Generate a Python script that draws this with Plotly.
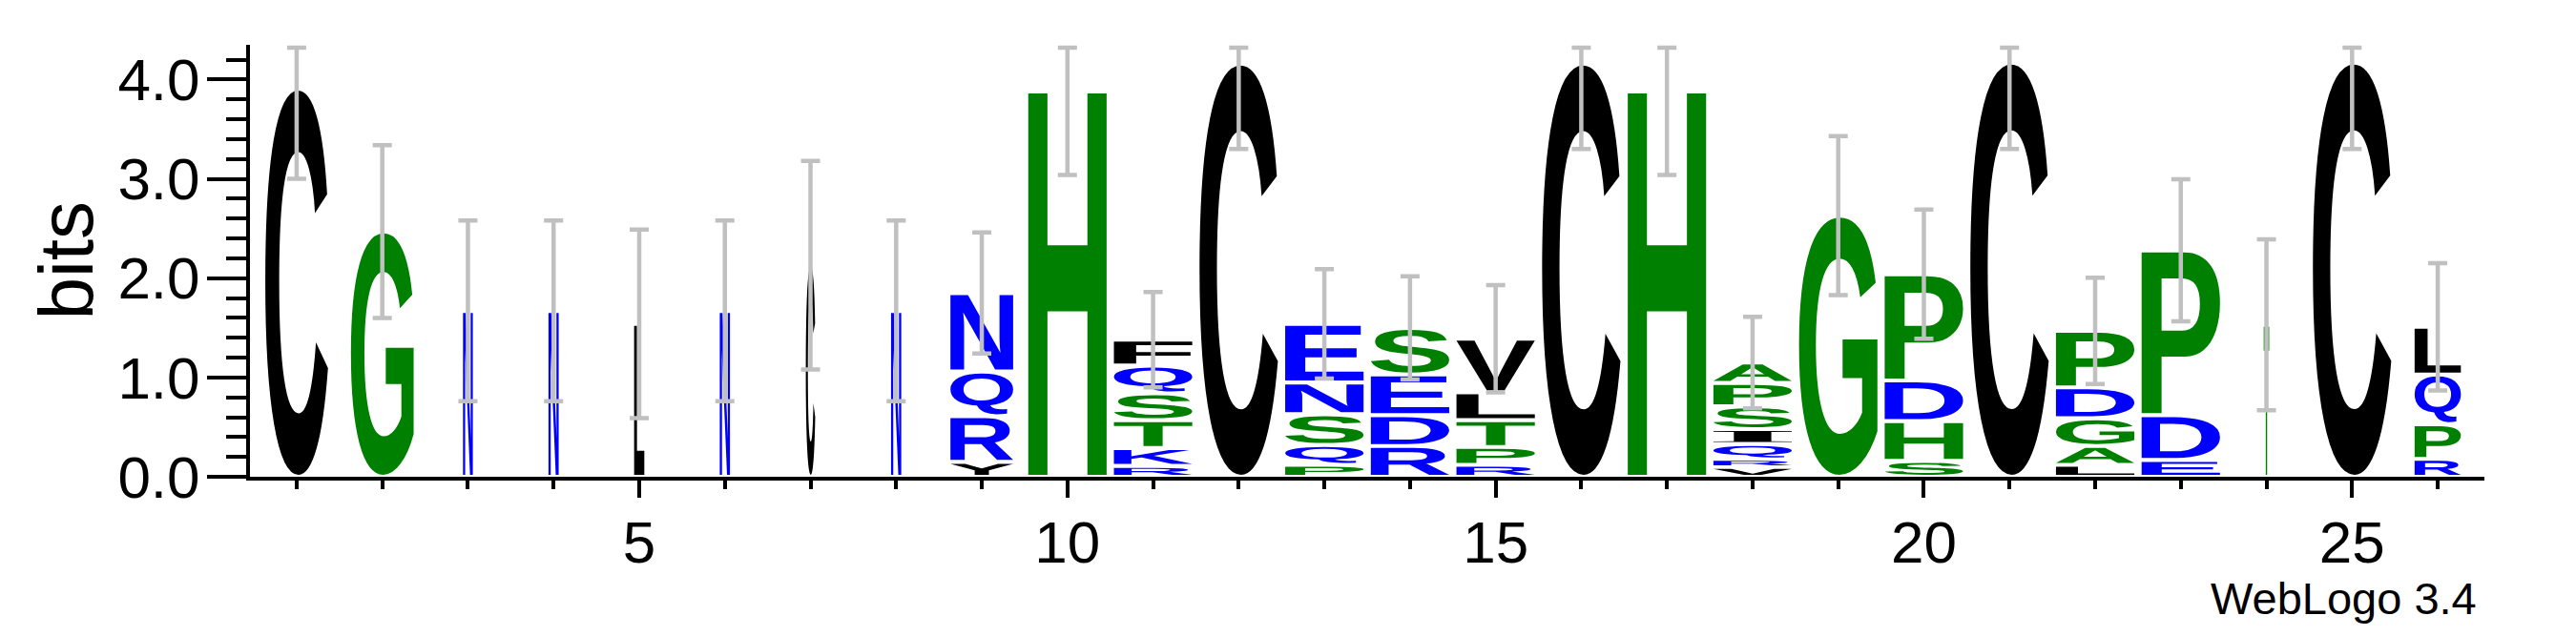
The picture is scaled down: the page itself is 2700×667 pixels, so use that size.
import glob
import math
import os
import struct
import subprocess

import plotly.graph_objects as go

positions = list(range(1, 27))
# letters of each stack, bottom -> top
stack_letters = [
    "C", "G", "N", "N", "L", "N", "C", "N", "YRQN", "H",
    "RKTSQF", "C", "PQSNE", "RDES", "RPTLV", "C", "H", "VRQISPA",
    "G", "SHDP", "C", "LAGDP", "EDP", "T", "C", "RPQL",
]
# information (bits) of each letter, bottom -> top
stack_bits = [
    [3.91], [2.47], [1.67], [1.67], [1.54], [1.67], [2.13], [1.67],
    [0.15, 0.46, 0.45, 0.79], [3.88],
    [0.11, 0.18, 0.28, 0.27, 0.28, 0.26], [4.16],
    [0.12, 0.20, 0.31, 0.32, 0.59], [0.31, 0.31, 0.41, 0.47],
    [0.12, 0.18, 0.27, 0.28, 0.54], [4.16], [3.88],
    [0.10, 0.075, 0.155, 0.15, 0.23, 0.235, 0.205], [2.63],
    [0.16, 0.40, 0.41, 1.07], [4.17], [0.12, 0.19, 0.28, 0.31, 0.57],
    [0.17, 0.45, 1.66], [1.53], [4.17], [0.18, 0.35, 0.50, 0.48],
]
# fraction of non-gap symbols (relative stack width)
stack_width = [
    0.80, 0.80, 0.125, 0.13, 0.13, 0.13, 0.12, 0.13, 0.80, 1.0,
    1.0, 1.0, 1.0, 1.0, 1.0, 1.0, 1.0, 1.0, 1.0, 1.0,
    1.0, 1.0, 1.0, 0.07, 1.0, 0.59,
]
# small-sample error (bits)
error_bits = [
    0.91, 0.87, 0.91, 0.91, 0.95, 0.91, 1.05, 0.91, 0.61, 0.84,
    0.48, 0.86, 0.55, 0.52, 0.54, 0.86, 0.84, 0.46, 0.80, 0.65,
    0.87, 0.535, 0.715, 0.86, 0.87, 0.64,
]
x_tick_labels = ["5", "10", "15", "20", "25"]
y_tick_labels = ["0.0", "1.0", "2.0", "3.0", "4.0"]

# hydrophobicity colour scheme (WebLogo)
scheme = {}
for aa in "RKDENQ":
    scheme[aa] = "#0000ff"
for aa in "SGHTAP":
    scheme[aa] = "#008000"
for aa in "YVMCLFIW":
    scheme[aa] = "#000000"

max_bits = math.log2(20)
letter_fill = 0.915   # fraction of a column covered by a full-width stack
pad_bits = 0.02       # white gap between stacked glyphs


# ---------------- minimal TrueType outline reader ----------------
def find_font(names, fc_query):
    for n in names:
        hits = glob.glob("/usr/share/fonts/**/" + n, recursive=True)
        if hits:
            return hits[0]
    try:
        out = subprocess.run(["fc-match", "-f", "%{file}", fc_query],
                             capture_output=True, text=True, timeout=10).stdout.strip()
        if out and os.path.exists(out):
            return out
    except Exception:
        pass
    return None


class TTFont:
    def __init__(self, path):
        d = open(path, "rb").read()
        self.d = d
        n = struct.unpack(">H", d[4:6])[0]
        t = {}
        for i in range(n):
            tag, _, off, ln = struct.unpack(">4sIII", d[12 + 16 * i:28 + 16 * i])
            t[tag.decode("latin1")] = off
        head = t["head"]
        fmt = struct.unpack(">h", d[head + 50:head + 52])[0]
        ng = struct.unpack(">H", d[t["maxp"] + 4:t["maxp"] + 6])[0]
        lo = t["loca"]
        if fmt == 0:
            self.loca = [struct.unpack(">H", d[lo + 2 * i:lo + 2 * i + 2])[0] * 2 for i in range(ng + 1)]
        else:
            self.loca = [struct.unpack(">I", d[lo + 4 * i:lo + 4 * i + 4])[0] for i in range(ng + 1)]
        self.glyf = t["glyf"]
        cm = t["cmap"]
        ns = struct.unpack(">H", d[cm + 2:cm + 4])[0]
        self.sub = None
        for i in range(ns):
            pid, eid, so = struct.unpack(">HHI", d[cm + 4 + 8 * i:cm + 12 + 8 * i])
            f = struct.unpack(">H", d[cm + so:cm + so + 2])[0]
            if f == 4 and (pid == 0 or (pid == 3 and eid == 1)):
                self.sub = cm + so
                break

    def gid(self, ch):
        d, s, c = self.d, self.sub, ord(ch)
        segx2 = struct.unpack(">H", d[s + 6:s + 8])[0]
        ends = s + 14
        starts = ends + segx2 + 2
        deltas = starts + segx2
        ranges = deltas + segx2
        for i in range(segx2 // 2):
            end = struct.unpack(">H", d[ends + 2 * i:ends + 2 * i + 2])[0]
            if c <= end:
                start = struct.unpack(">H", d[starts + 2 * i:starts + 2 * i + 2])[0]
                if c < start:
                    return 0
                delta = struct.unpack(">h", d[deltas + 2 * i:deltas + 2 * i + 2])[0]
                ro = struct.unpack(">H", d[ranges + 2 * i:ranges + 2 * i + 2])[0]
                if ro == 0:
                    return (c + delta) & 0xFFFF
                addr = ranges + 2 * i + ro + 2 * (c - start)
                g = struct.unpack(">H", d[addr:addr + 2])[0]
                return (g + delta) & 0xFFFF if g else 0
        return 0

    def outline(self, ch):
        d = self.d
        off = self.glyf + self.loca[self.gid(ch)]
        nc, x0, y0, x1, y1 = struct.unpack(">hhhhh", d[off:off + 10])
        if nc <= 0:
            return None
        p = off + 10
        endpts = struct.unpack(">%dH" % nc, d[p:p + 2 * nc])
        p += 2 * nc
        il = struct.unpack(">H", d[p:p + 2])[0]
        p += 2 + il
        npts = endpts[-1] + 1
        flags = []
        while len(flags) < npts:
            f = d[p]
            p += 1
            flags.append(f)
            if f & 8:
                r = d[p]
                p += 1
                flags.extend([f] * r)
        flags = flags[:npts]
        xs, v = [], 0
        for f in flags:
            if f & 2:
                dv = d[p]
                p += 1
                v += dv if f & 16 else -dv
            elif not f & 16:
                v += struct.unpack(">h", d[p:p + 2])[0]
                p += 2
            xs.append(v)
        ys, v = [], 0
        for f in flags:
            if f & 4:
                dv = d[p]
                p += 1
                v += dv if f & 32 else -dv
            elif not f & 32:
                v += struct.unpack(">h", d[p:p + 2])[0]
                p += 2
            ys.append(v)
        contours, s = [], 0
        for e in endpts:
            contours.append([(xs[i], ys[i], flags[i] & 1) for i in range(s, e + 1)])
            s = e + 1
        return (x0, y0, x1, y1), contours


sans_path = find_font(["LiberationSans-Bold.ttf", "Arial_Bold.ttf", "DejaVuSans-Bold.ttf"],
                      "Liberation Sans:bold")
serif_path = find_font(["LiberationSerif-Bold.ttf", "DejaVuSerif-Bold.ttf"], "Liberation Serif:bold")
sans = TTFont(sans_path) if sans_path else None
serif = TTFont(serif_path) if serif_path else sans


def glyph_path(ch, cx, w, yb, h):
    """SVG path (data coordinates) of glyph ch stretched into the box."""
    font = serif if (ch == "I" and serif is not None) else sans
    res = font.outline(ch) if font is not None else None
    if res is None:
        return "M{0},{1}L{2},{1}L{2},{3}L{0},{3}Z".format(cx - w / 2, yb, cx + w / 2, yb + h)
    (x0, y0, x1, y1), contours = res
    sx = w / (x1 - x0)
    sy = h / (y1 - y0)

    def T(x, y):
        return "%.5f,%.5f" % (cx - w / 2 + (x - x0) * sx, yb + (y - y0) * sy)

    parts = []
    for c in contours:
        n = len(c)
        if n == 0:
            continue
        k = next((i for i in range(n) if c[i][2]), None)
        if k is None:
            a, b = c[0], c[1 % n]
            start = ((a[0] + b[0]) / 2, (a[1] + b[1]) / 2, 1)
            seq = c[1:] + c[:1]
        else:
            start = c[k]
            seq = c[k + 1:] + c[:k]
        seq = seq + [start]
        parts.append("M" + T(start[0], start[1]))
        prev = None
        for q in seq:
            if q[2]:
                if prev is not None:
                    parts.append("Q" + T(prev[0], prev[1]) + " " + T(q[0], q[1]))
                    prev = None
                else:
                    parts.append("L" + T(q[0], q[1]))
            else:
                if prev is not None:
                    mx, my = (prev[0] + q[0]) / 2, (prev[1] + q[1]) / 2
                    parts.append("Q" + T(prev[0], prev[1]) + " " + T(mx, my))
                prev = q
        if prev is not None:
            parts.append("Q" + T(prev[0], prev[1]) + " " + T(start[0], start[1]))
        parts.append("Z")
    return "".join(parts)


# ---------------- build figure ----------------
shapes = []
totals = []
for pos, letters, bits, frac in zip(positions, stack_letters, stack_bits, stack_width):
    base = 0.0
    w = letter_fill * frac
    for ch, b in zip(letters, bits):
        pad = min(pad_bits, 0.2 * b)
        shapes.append(dict(
            type="path", xref="x", yref="y", layer="below",
            path=glyph_path(ch, pos, w, base + pad, b - 2 * pad),
            fillcolor=scheme[ch], line=dict(width=0), fillrule="evenodd",
        ))
        base += b
    totals.append(base)

err_plus = [min(t + e, max_bits) - t for t, e in zip(totals, error_bits)]

fig = go.Figure()
fig.add_trace(go.Scatter(
    x=positions, y=totals, mode="markers",
    marker=dict(size=1, color="rgba(0,0,0,0)"),
    error_y=dict(type="data", symmetric=False, array=err_plus, arrayminus=error_bits,
                 color="#c0c0c0", thickness=4.5, width=10),
    hoverinfo="skip", showlegend=False,
))

font_family = "Liberation Sans, Arial, Helvetica, sans-serif"
# the page body keeps the browser's 8px margin, so the figure is sized to fit
fig.update_layout(
    width=2692, height=651,
    margin=dict(l=254, r=96, t=39, b=159, pad=0),
    paper_bgcolor="white", plot_bgcolor="white",
    shapes=shapes,
    font=dict(family=font_family, color="black"),
    xaxis=dict(
        range=[0.455, 26.545], showgrid=False, zeroline=False,
        showline=True, linecolor="black", linewidth=4,
        ticks="outside", ticklen=18, tickwidth=4, tickcolor="black",
        tickmode="array", tickvals=[int(t) for t in x_tick_labels], ticktext=x_tick_labels,
        tickfont=dict(size=62, family=font_family, color="black"),
        ticklabelstandoff=-6,
        minor=dict(tickmode="array", tickvals=positions, ticks="outside",
                   ticklen=9, tickwidth=4, tickcolor="black"),
    ),
    yaxis=dict(
        range=[0, 4.35], showgrid=False, zeroline=False,
        showline=True, linecolor="black", linewidth=4,
        ticks="outside", ticklen=41, tickwidth=4, tickcolor="black",
        tickmode="array", tickvals=[float(t) for t in y_tick_labels], ticktext=y_tick_labels,
        tickfont=dict(size=62, family=font_family, color="black"),
        ticklabelstandoff=-5,
        minor=dict(dtick=0.2, tick0=0, ticks="outside", ticklen=21, tickwidth=4,
                   tickcolor="black"),
    ),
    annotations=[
        dict(text="bits", xref="paper", yref="paper", x=-0.0824, y=0.5,
             xanchor="center", yanchor="middle", textangle=-90, showarrow=False,
             font=dict(size=80, family=font_family, color="black")),
        dict(text="WebLogo 3.4", xref="paper", yref="paper", x=0.9974, y=-0.281,
             xanchor="right", yanchor="middle", showarrow=False,
             font=dict(size=47, family=font_family, color="black")),
    ],
)

fig.write_html("out.html")
